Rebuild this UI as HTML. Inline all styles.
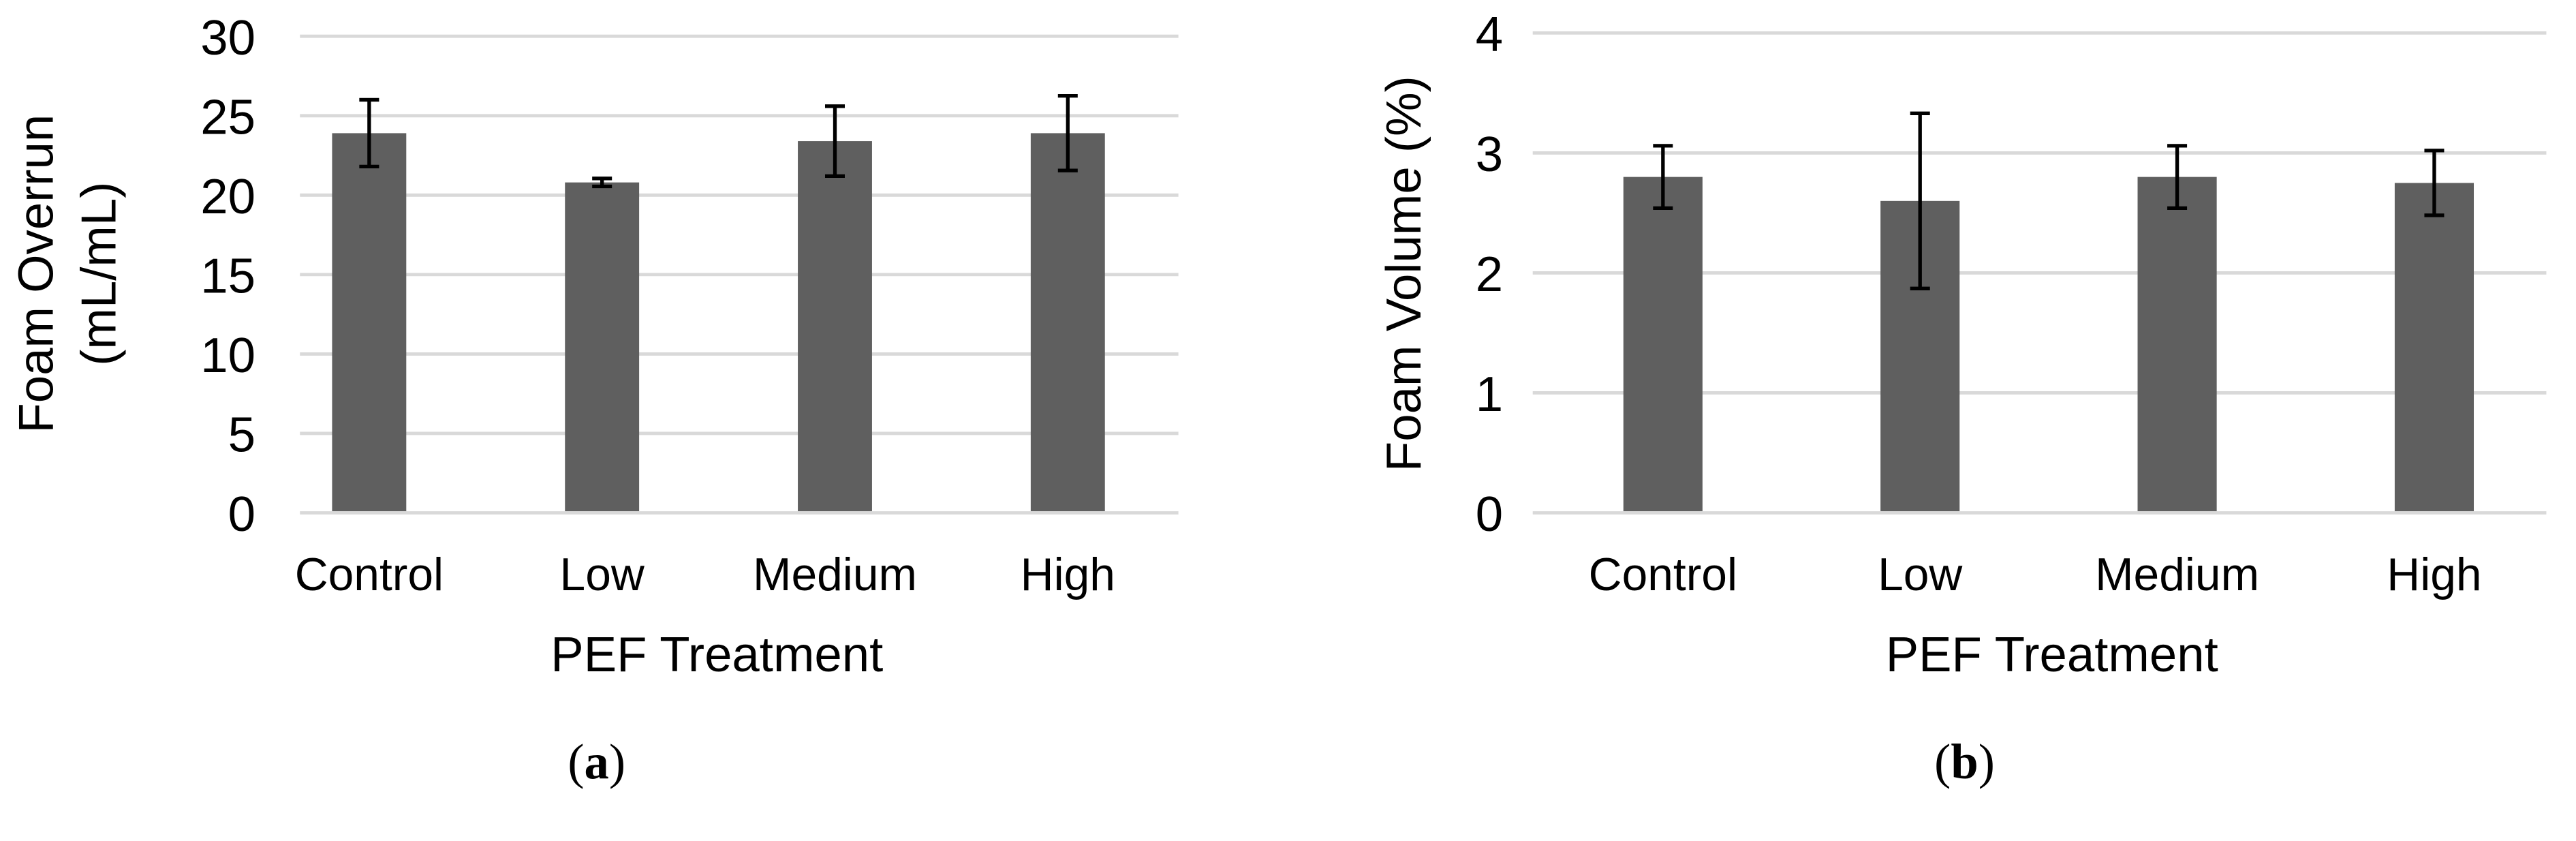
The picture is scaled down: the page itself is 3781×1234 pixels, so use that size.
<!DOCTYPE html>
<html><head><meta charset="utf-8"><style>
html,body{margin:0;padding:0;background:#fff;}
svg{display:block;}
text{font-family:"Liberation Sans",Arial,sans-serif;fill:#000;}
</style></head><body>
<svg id="fig" width="3781" height="1234" viewBox="0 0 1563 510" preserveAspectRatio="none" xmlns="http://www.w3.org/2000/svg">
<g id="chartA"></g>
<g id="chartB"></g>
<text x="32" y="166" font-size="30" text-anchor="middle" transform="rotate(-90 32 166)">Foam Overrun</text>
<text x="70" y="166" font-size="30" text-anchor="middle" transform="rotate(-90 70 166)">(mL/mL)</text>
<text x="435" y="407" font-size="30" text-anchor="middle">PEF Treatment</text>
<text x="362" y="472" font-size="30" text-anchor="middle" style="font-family:'Liberation Serif',serif">(<tspan font-weight="bold">a</tspan>)</text>
<text x="862" y="166" font-size="30" text-anchor="middle" transform="rotate(-90 862 166)">Foam Volume (%)</text>
<text x="1245" y="407" font-size="30" text-anchor="middle">PEF Treatment</text>
<text x="1192" y="472" font-size="30" text-anchor="middle" style="font-family:'Liberation Serif',serif">(<tspan font-weight="bold">b</tspan>)</text>
</svg>
<script>
const categories = ["Control","Low","Medium","High"];
const overrunValues = [23.9, 20.8, 23.4, 23.9];
const overrunErrors = [2.1, 0.25, 2.2, 2.35];
const overrunTicks = [0,5,10,15,20,25,30];
const volumeValues = [2.8, 2.6, 2.8, 2.75];
const volumeErrors = [0.26, 0.73, 0.26, 0.27];
const volumeTicks = [0,1,2,3,4];

const NS = "http://www.w3.org/2000/svg";
function mk(tag, attrs, parent){const e=document.createElementNS(NS,tag);for(const k in attrs)e.setAttribute(k,attrs[k]);parent.appendChild(e);return e;}

function draw(g, cfg, values, errors, ticks){
  const yMax = ticks[ticks.length-1];
  const y = v => cfg.y0 - (v / yMax) * (cfg.y0 - cfg.yTop);
  const x = i => cfg.c0 + i * cfg.step;
  ticks.forEach(t => {
    const l = mk("line",{x1:cfg.gx0,x2:cfg.gx1,y1:y(t),y2:y(t),stroke:"#d9d9d9","stroke-width":2},g);
    
    
    const tx = mk("text",{x:cfg.tickX,y:y(t)+11,"font-size":30,"text-anchor":"end"},g);
    tx.textContent = t;
    
    
  });
  values.forEach((v,i) => {
    const b = mk("rect",{x:x(i)-cfg.bw/2,y:y(v),width:cfg.bw,height:y(0)-y(v)-1,fill:"#5f5f5f"},g);
    
    
    const e = errors[i], cx = x(i);
    const eb = mk("path",{d:`M${cx},${y(v+e)}V${y(v-e)}M${cx-6},${y(v+e)}H${cx+6}M${cx-6},${y(v-e)}H${cx+6}`,stroke:"#000","stroke-width":2.2,fill:"none"},g);
    
    
    const lb = mk("text",{x:cx,y:358,"font-size":28,"text-anchor":"middle"},g);
    lb.textContent = categories[i];
    
    
  });
}
draw(document.getElementById("chartA"),{y0:311,yTop:22,gx0:182,gx1:715,c0:224,step:141.3,bw:45,tickX:155},overrunValues,overrunErrors,overrunTicks);
draw(document.getElementById("chartB"),{y0:311,yTop:20,gx0:930,gx1:1545,c0:1009,step:156,bw:48,tickX:912},volumeValues,volumeErrors,volumeTicks);
</script>
</body></html>
